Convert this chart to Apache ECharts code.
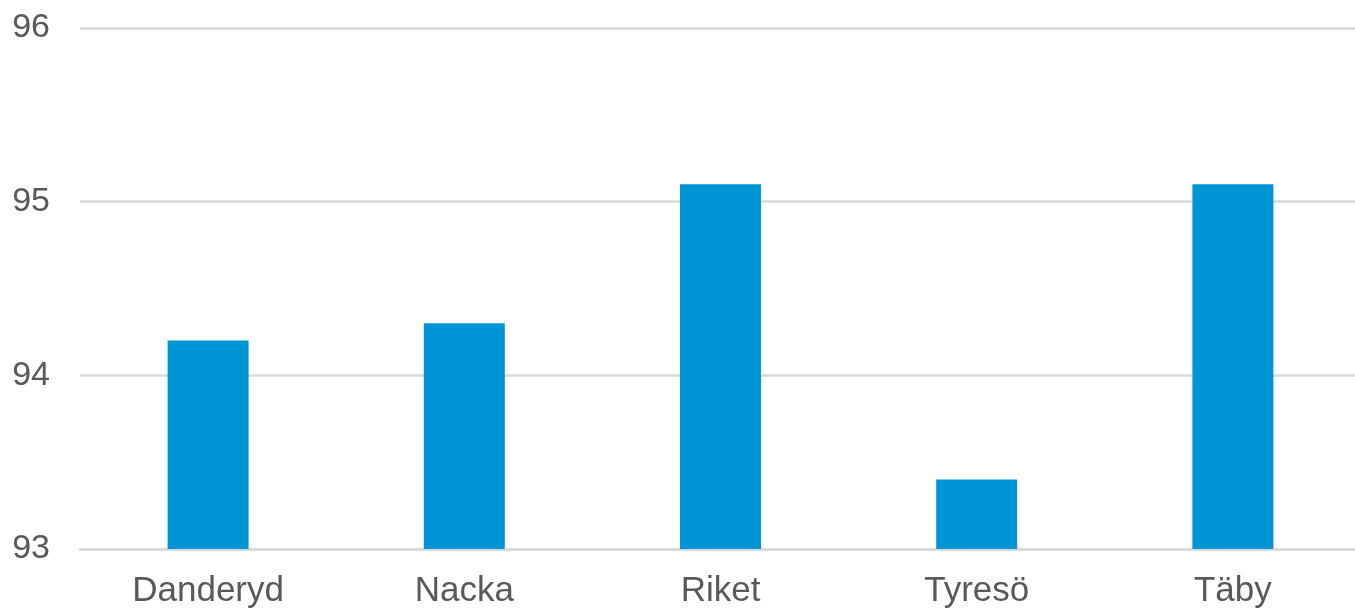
<!DOCTYPE html>
<html><head><meta charset="utf-8">
<script src="https://cdn.jsdelivr.net/npm/echarts@6/dist/echarts.min.js"></script>
<style>html,body{margin:0;padding:0;background:#fff;overflow:hidden;width:1355px;height:609px}#c{width:1361px;height:609px}</style>
</head><body><div id="c"></div>
<script>
const categories = ['Danderyd', 'Nacka', 'Riket', 'Tyresö', 'Täby'];
const values = [94.2, 94.3, 95.1, 93.4, 95.1];
const yMin = 93, yMax = 96, yStep = 1;

const chart = echarts.init(document.getElementById('c'), null, {renderer: 'canvas'});
chart.setOption({
  animation: false,
  grid: {left: 80, top: 28, bottom: 60, right: 0, containLabel: false},
  xAxis: {
    type: 'category', data: categories,
    axisLine: {show: true, lineStyle: {color: '#d9d9d9', width: 2.5}},
    axisTick: {show: false},
    axisLabel: {color: '#595959', fontSize: 35, fontFamily: 'Liberation Sans, Arial', margin: 25}
  },
  yAxis: {
    type: 'value', min: yMin, max: yMax, interval: yStep,
    axisLine: {show: false}, axisTick: {show: false},
    splitLine: {lineStyle: {color: '#d9d9d9', width: 2.5}},
    axisLabel: {color: '#595959', fontSize: 34, fontFamily: 'Liberation Sans, Arial', margin: 30}
  },
  series: [{
    type: 'bar', data: values, barWidth: 81,
    itemStyle: {color: '#0096d6'}
  }]
});
</script></body></html>
